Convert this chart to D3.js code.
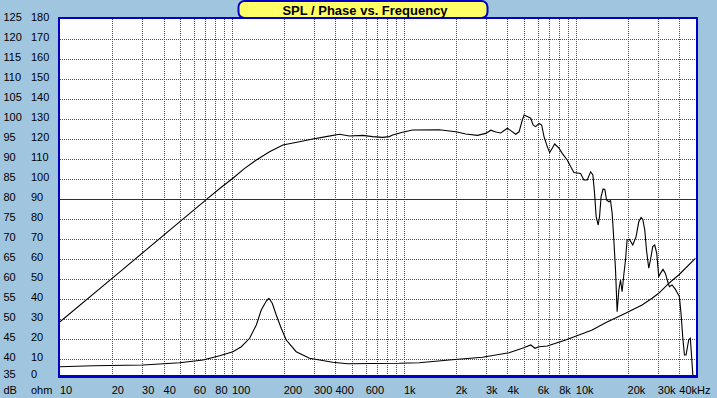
<!DOCTYPE html>
<html><head><meta charset="utf-8">
<script src="https://cdn.jsdelivr.net/npm/d3@7"></script>
<style>
html,body{margin:0;padding:0;background:#a0c6df;}
svg{display:block;}
text{font-family:"Liberation Sans",Arial,sans-serif;font-size:11px;fill:#000;}
</style></head><body>
<script>
// ---- data ----
const splFreq = [10,22.3,72.6,86,101.3,118,138.6,165.5,197.7,247,295,353,422,482,576,658,752,823,860,983,1123,1604,2006,2293,2677,2995,3203,3423,3660,3999,4183,4472,4676,4887,5000,5224,5468,5639,5844,6109,6331,6531,6825,7046,7296,7533,7979,8337,8914,9329,9750,10660,11140,11650,12190,12570,12850,13130,13490,13740,14030,14410,14750,15090,15560,15920,16270,16640,17020,17390,17790,18200,18590,19010,19450,19870,20510,21440,22420,23230,23970,24510,25180,25760,26560,27170,28010,28770,29560,30350,31050,32140,33190,34260,35030,36270,37960,40010,40910,41850,42830,43770,45340,46350,47430,48000];
const splDb = [49.3,61.8,80.2,82.8,85.2,87.6,89.75,91.8,93.5,94.3,95,95.6,96.2,95.75,95.9,95.6,95.4,95.6,96,96.7,97.25,97.3,96.8,96.25,95.9,96.4,97.2,96.75,96.5,97.7,97.1,96.2,96.8,99.75,101,100.6,100.2,98.5,98.1,98.9,98.5,95.6,93.1,91.6,92.7,93.75,92.7,91.4,89.75,88.1,86.6,86.4,84.75,84.75,86.8,86,81.4,75.6,73.5,75.6,80.6,82.5,82.4,79.75,79.3,79.6,76.4,69.75,62.25,51.8,57.25,59.75,56.8,61,64.75,69.75,69.9,68.5,70.6,74.3,75.4,74.9,72.25,67.25,62.7,64.75,68.1,68.5,66.4,60.6,61.4,62.4,61.4,59.3,58.1,58.5,57.4,55.6,51.4,45.6,41,41,44.75,45.2,38.9,35.6];
const impFreq = [10,15.6,30.4,49.7,67.9,84.8,101.3,113.4,126.7,138.6,148.1,158.4,164,171.6,181,193.5,206.9,236.5,282.5,385.5,471,940,1228,1834,2863,4090,4887,5468,5790,6109,6825,8727,12450,14890,19450,24290,27760,30350,34710,39660,49590];
const impOhm = [6.15,6.65,7.0,8.15,9.5,11.65,13.65,16.15,20.35,27,34.5,39,40.35,37.85,32,25.35,19.5,13.65,10.35,8.35,7.65,7.85,8.15,9.5,10.85,13.15,15.35,17,15.35,16.15,16.5,19.5,24.5,28.15,32.85,37,40.35,42.85,47.85,52,60.35];
const xTickValues = [10,20,30,40,60,80,100,200,300,400,600,1000,2000,3000,4000,6000,8000,10000,20000,30000,40000];
const xTickLabels = ["10","20","30","40","60","80","100","200","300","400","600","1k","2k","3k","4k","6k","8k","10k","20k","30k","40kHz"];
const dbTicks = d3.range(35,126,5);
const ohmTicks = d3.range(0,181,10);
const refLevelDb = 80;
const titleText = "SPL / Phase vs. Frequency";

// ---- layout ----
const W = 717, H = 398;
const L = 60, R = 696, T = 19, B = 379;
const x = d3.scaleLog().domain([10,50000]).range([L,R]);
const yDb = d3.scaleLinear().domain([35,125]).range([B,T]);
const yOhm = d3.scaleLinear().domain([0,180]).range([B,T]);

const svg = d3.select("body").append("svg").attr("width",W).attr("height",H);
svg.append("rect").attr("width",W).attr("height",H).attr("fill","#a0c6df");
svg.append("rect").attr("x",L).attr("y",T).attr("width",R-L).attr("height",376-T).attr("fill","#fff");

// grid
const gridFreqs = [];
[10,100,1000,10000].forEach(d=>{for(let k=1;k<=9;k++){const f=d*k; if(f>10 && f<50000) gridFreqs.push(f);}});
const g = svg.append("g").attr("shape-rendering","crispEdges");
g.selectAll("line.v").data(gridFreqs).join("line")
  .attr("x1",d=>Math.round(x(d))+0.5).attr("x2",d=>Math.round(x(d))+0.5)
  .attr("y1",T).attr("y2",376)
  .attr("stroke","#008000").attr("stroke-width",1).attr("stroke-dasharray","1,1");
g.selectAll("line.h").data(dbTicks.filter(d=>d>35 && d<125 && d!==refLevelDb)).join("line")
  .attr("x1",L).attr("x2",R)
  .attr("y1",d=>Math.round(yDb(d))+0.5).attr("y2",d=>Math.round(yDb(d))+0.5)
  .attr("stroke","#008000").attr("stroke-width",1).attr("stroke-dasharray","1,1");
g.append("line").attr("x1",L).attr("x2",R)
  .attr("y1",Math.round(yDb(refLevelDb))+0.5).attr("y2",Math.round(yDb(refLevelDb))+0.5)
  .attr("stroke","#a00000").attr("stroke-width",1);

// curves
svg.append("clipPath").attr("id","clip").append("rect").attr("x",L).attr("y",T).attr("width",R-L).attr("height",377-T);
const cg = svg.append("g").attr("clip-path","url(#clip)");
const splLine = d3.line().x(d=>x(d[0])).y(d=>yDb(d[1]));
const impLine = d3.line().x(d=>x(d[0])).y(d=>yOhm(d[1]));
cg.append("path").attr("d",splLine(d3.zip(splFreq,splDb))).attr("fill","none").attr("stroke","#000").attr("stroke-width",1.1);
cg.append("path").attr("d",impLine(d3.zip(impFreq,impOhm))).attr("fill","none").attr("stroke","#000").attr("stroke-width",1.1);

// frame
const fr = svg.append("g").attr("shape-rendering","crispEdges");
fr.append("rect").attr("x",58).attr("y",17).attr("width",2).attr("height",361).attr("fill","#0000c8");
fr.append("rect").attr("x",58).attr("y",17).attr("width",640).attr("height",2).attr("fill","#0000c8");
fr.append("rect").attr("x",696).attr("y",17).attr("width",2).attr("height",361).attr("fill","#0000c8");
fr.append("rect").attr("x",58).attr("y",375).attr("width",640).attr("height",3).attr("fill","#0000c8");

// y labels
svg.selectAll("text.db").data(dbTicks).join("text")
  .attr("x",3.5).attr("y",d=>Math.min(yDb(d)+1.5,378)).text(d=>d);
svg.selectAll("text.ohm").data(ohmTicks).join("text")
  .attr("x",31).attr("y",d=>Math.min(yOhm(d)+1.5,378)).text(d=>d);
svg.append("text").attr("x",3.5).attr("y",394).text("dB");
svg.append("text").attr("x",31).attr("y",394).text("ohm");

// x labels
svg.selectAll("text.xl").data(xTickValues).join("text")
  .attr("x",d=>x(d)).attr("y",394).text((d,i)=>xTickLabels[i]);

// title
svg.append("rect").attr("x",238.5).attr("y",1).attr("width",249).attr("height",17).attr("rx",6).attr("ry",6)
  .attr("fill","#ffff66").attr("stroke","#0000c8").attr("stroke-width",2);
svg.append("text").attr("x",365).attr("y",15).attr("text-anchor","middle")
  .style("font-size","13px").style("font-weight","bold").text(titleText);
</script>
</body></html>
